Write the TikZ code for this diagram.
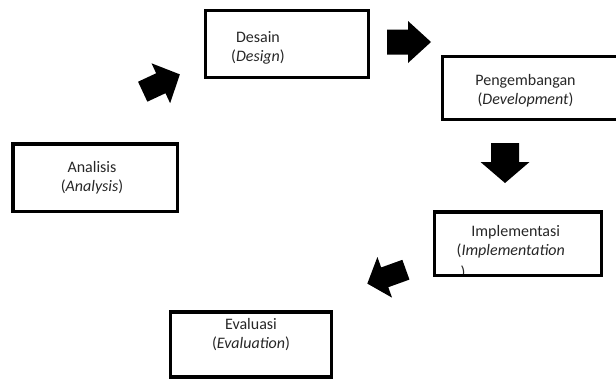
\documentclass[tikz,border=0pt]{standalone}
\usepackage{fontspec}
\setmainfont{Carlito}
\begin{document}
\begin{tikzpicture}[x=1pt,y=-1pt,
  box/.style={draw=black, line width=3.5pt, inner sep=0pt, fill=none},
  lbl/.style={align=center, inner sep=0pt, text=black!85, font=\fontsize{16}{19}\selectfont},
  pics/barrow/.style n args={4}{code={\fill[black] (0,-#1) -- (#2,-#1) -- (#2,-#3) -- (#2+#4,0) -- (#2,#3) -- (#2,#1) -- (0,#1) -- cycle;}}]
\useasboundingbox (0,0) rectangle (616,378);

% boxes
\node[box, minimum width=163pt, minimum height=67pt] (desain) at (287,44) {};
\node[box, minimum width=190pt, minimum height=63pt] (pengembangan) at (537.5,88) {};
\node[box, minimum width=164.5pt, minimum height=67.5pt] (analisis) at (95,177.5) {};
\node[box, minimum width=166.6pt, minimum height=63.5pt] (implementasi) at (518,243.75) {};
\node[box, minimum width=161.2pt, minimum height=65pt] (evaluasi) at (250.9,344.5) {};

% labels
\node[lbl] (tdesain) at (258,48) {Desain\\(\textit{Design})};
\node[lbl] (tpengembangan) at (525.5,91) {Pengembangan\\(\textit{Development})};
\node[lbl] (tanalisis) at (92,177.5) {Analisis\\(\textit{Analysis})};
\node[lbl] (tevaluasi) at (251,335) {Evaluasi\\(\textit{Evaluation})};
\begin{scope}
  \clip (436.5,213.8) rectangle (599.5,273.7);
  \node[lbl, align=left, anchor=north west] (timplementasi) at (456.5,225.5)
    {\hspace*{14.7pt}Implementasi\\(\textit{Implementation}\\[3pt]\hspace*{4pt})};
\end{scope}

% block arrows
\pic[rotate=25] (a1) at (142.7,91.7) {barrow={11}{20}{22}{21}};
\pic (a2) at (387,42) {barrow={12.5}{21}{21}{23}};
\pic[rotate=-90] (a3) at (505,143) {barrow={14}{19}{24.5}{21}};
\pic[rotate=199.8] (a4) at (405.9,269.7) {barrow={10.5}{22.5}{21.6}{18.5}};
\end{tikzpicture}
\end{document}
